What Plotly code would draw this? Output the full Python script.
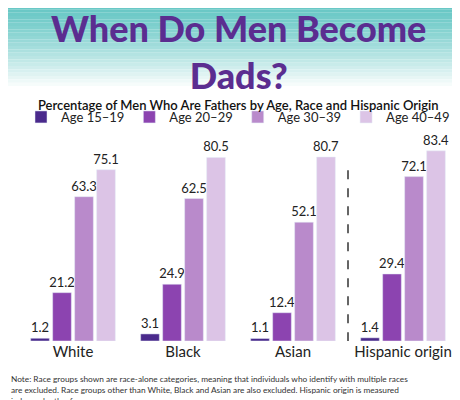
import plotly.graph_objects as go

groups = ["White", "Black", "Asian", "Hispanic origin"]
ages = ["Age 15–19", "Age 20–29", "Age 30–39", "Age 40–49"]
vals = {
    "Age 15–19": [1.2, 3.1, 1.1, 1.4],
    "Age 20–29": [21.2, 24.9, 12.4, 29.4],
    "Age 30–39": [63.3, 62.5, 52.1, 72.1],
    "Age 40–49": [75.1, 80.5, 80.7, 83.4],
}
colors = ["#4a2a8c", "#8c44b0", "#b98acb", "#dcc4e6"]

fig = go.Figure()
for a, c in zip(ages, colors):
    fig.add_bar(x=groups, y=vals[a], name=a, marker_color=c,
                text=[f"{v:.1f}" for v in vals[a]], textposition="outside",
                constraintext="none",
                textfont=dict(size=13, color="#222"), cliponaxis=False)

PH = 228.0
def py(p):
    return (333 - p) / PH

shapes = []
n = 24
top, bot = py(-2), py(78)
for i in range(n):
    y0 = top - i * (top - bot) / n
    y1 = top - (i + 1) * (top - bot) / n
    t = (i / n) ** 1.3
    r = int(105 + (255 - 105) * t); g = int(200 + (255 - 200) * t); b = int(198 + (255 - 198) * t)
    shapes.append(dict(type="rect", xref="paper", yref="paper", x0=-0.05, x1=1.05, y0=y1, y1=y0,
                       fillcolor=f"rgb({r},{g},{b})", line_width=0, layer="below"))
shapes.append(dict(type="line", xref="x", yref="y", x0=2.5, x1=2.5, y0=-8, y1=76,
                   line=dict(color="#333", width=1.5, dash="dash")))
fig.update_layout(shapes=shapes)

fig.add_annotation(text="When Do Men Become<br>Dads?", xref="paper", yref="paper", x=0.5, y=py(-4),
                   showarrow=False, yanchor="top",
                   font=dict(family="Lato", size=36, color="#5b2d90", weight=900))
fig.add_annotation(text="Percentage of Men Who Are Fathers by Age, Race and Hispanic Origin",
                   xref="paper", yref="paper", x=0.5, y=py(87), showarrow=False,
                   font=dict(family="Lato", size=13, color="#111", weight=600))
fig.add_annotation(text="Note: Race groups shown are race-alone categories, meaning that individuals who identify with multiple races<br>are excluded. Race groups other than White, Black and Asian are also excluded. Hispanic origin is measured<br>independently of race.",
                   xref="paper", yref="paper", x=-0.02, y=py(364), showarrow=False, xanchor="left",
                   yanchor="top", align="left", font=dict(family="Lato", size=8.3, color="#333"))

fig.update_layout(
    width=460, height=400, margin=dict(l=10, r=10, t=105, b=67),
    paper_bgcolor="white", plot_bgcolor="white",
    barmode="group", bargap=0.2, bargroupgap=0.15,
    font=dict(family="Lato"),
    showlegend=True,
    legend=dict(orientation="h", x=0.5, xanchor="center", y=py(109), yanchor="middle",
                font=dict(size=13, color="#222"), traceorder="normal", bgcolor="rgba(0,0,0,0)"),
    yaxis=dict(range=[0, 100], visible=False),
    xaxis=dict(showline=False, ticks="", tickfont=dict(size=15, color="#222")),
)
fig.write_html("out.html")
